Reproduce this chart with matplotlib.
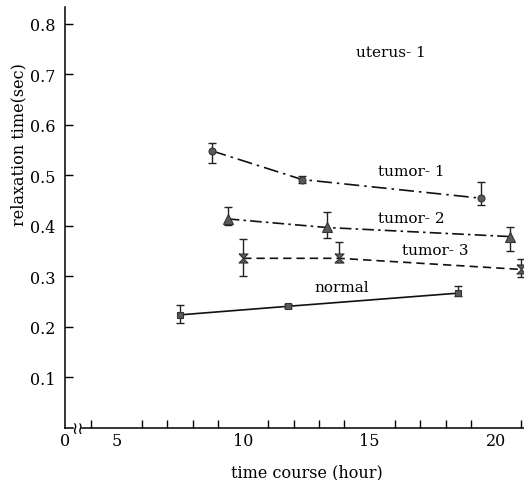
import matplotlib.pyplot as plt

plt.rcParams['font.family'] = ['DejaVu Serif', 'DejaVu Sans']

# ── Data ──────────────────────────────────────────────────────
t1_hours = [8.75, 12.33, 19.4]
t1_vals = [0.549, 0.492, 0.455]
t1_lo = [0.024, 0.006, 0.014]
t1_hi = [0.015, 0.006, 0.032]

t2_hours = [9.39, 13.3, 20.55]
t2_vals = [0.414, 0.397, 0.379]
t2_lo = [0.012, 0.021, 0.028]
t2_hi = [0.023, 0.030, 0.018]

t3_hours = [10.0, 13.8, 20.97]
t3_vals = [0.336, 0.336, 0.314]
t3_lo = [0.035, 0.008, 0.015]
t3_hi = [0.039, 0.033, 0.020]

nm_hours = [7.5, 11.78, 18.5]
nm_vals = [0.224, 0.241, 0.267]
nm_lo = [0.017, 0.004, 0.005]
nm_hi = [0.020, 0.004, 0.015]

x_left, x_right = 2.96, 21.1
y_ticks = [0.1, 0.2, 0.3, 0.4, 0.5, 0.6, 0.7, 0.8]
x_major = [5, 10, 15, 20]
x_minor = list(range(4, 22))

# hourglass marker for tumor-3
hourglass = [(-1, 1), (1, 1), (0, 0), (1, -1), (-1, -1), (0, 0), (-1, 1)]

fig = plt.figure(figsize=(5.24, 4.81), dpi=100)
ax = fig.add_axes([65 / 524, 52 / 481, 459 / 524, 421 / 481])

series = [
    (t1_hours, t1_vals, t1_lo, t1_hi, 'o', 5, (0, (9, 3, 1.5, 3))),
    (t2_hours, t2_vals, t2_lo, t2_hi, '^', 6.5, (0, (7, 2.5, 1.5, 2.5))),
    (t3_hours, t3_vals, t3_lo, t3_hi, hourglass, 6.5, (0, (5, 3))),
    (nm_hours, nm_vals, nm_lo, nm_hi, 's', 5, '-'),
]
for hx, hy, lo, hi, mk, ms, ls in series:
    ax.errorbar(hx, hy, yerr=[lo, hi], fmt='none', ecolor='#222222',
                elinewidth=1.0, capsize=2.6, capthick=1.0, zorder=3)
    ax.plot(hx, hy, color='#111111', lw=1.2, linestyle=ls, zorder=2)
    ax.plot(hx, hy, linestyle='none', marker=mk, ms=ms,
            markerfacecolor='#5a5a5a', markeredgecolor='#333333',
            markeredgewidth=0.8, zorder=4)

# labels on the plot
lab_kw = dict(fontsize=11, ha='center', va='center')
ax.text(15.85, 0.745, 'uterus- 1', **lab_kw)
ax.text(16.63, 0.509, 'tumor- 1', **lab_kw)
ax.text(16.65, 0.416, 'tumor- 2', **lab_kw)
ax.text(17.58, 0.352, 'tumor- 3', **lab_kw)
ax.text(13.9, 0.280, 'normal', **lab_kw)

ax.set_xlim(x_left, x_right)
ax.set_ylim(0, 0.8336)

# axes: broken x axis near the origin
for s in ['top', 'right', 'bottom']:
    ax.spines[s].set_visible(False)
ax.spines['left'].set_linewidth(1.1)
ax.plot([x_left, 3.27], [0, 0], color='black', lw=1.1, clip_on=False)
ax.plot([3.63, x_right], [0, 0], color='black', lw=1.1, clip_on=False)
ax.text(3.45, 0.0, '\u2240\u2240', family='DejaVu Sans', fontsize=12,
        ha='center', va='center')

ax.set_yticks(y_ticks)
ax.set_yticklabels([f'{v:.1f}' for v in y_ticks])
ax.set_xticks([x_left] + x_major)
ax.set_xticklabels(['0'] + [str(v) for v in x_major])
ax.set_xticks(x_minor, minor=True)
ax.tick_params(axis='y', direction='in', length=6, width=1, pad=7,
               labelsize=11.5)
ax.tick_params(axis='x', which='both', direction='in', length=6, width=1,
               pad=3, labelsize=11.5)
ax.tick_params(axis='x', which='major', length=0)

ax.set_ylabel('relaxation time(sec)', fontsize=11.5)
ax.yaxis.set_label_coords(-0.081, 0.675)
ax.set_xlabel('time course (hour)', fontsize=11.5)
ax.xaxis.set_label_coords(0.526, -0.085)

plt.savefig('out.png', dpi=100)
